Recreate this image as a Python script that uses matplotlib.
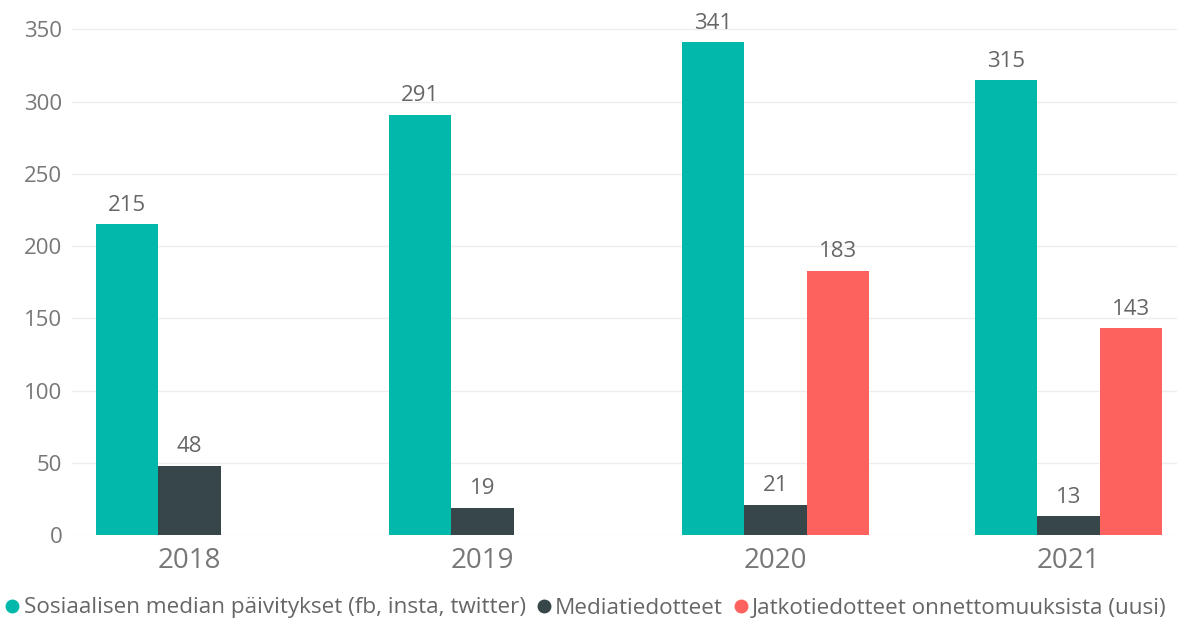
import matplotlib.pyplot as plt
from matplotlib.lines import Line2D
import numpy as np

years = ['2018', '2019', '2020', '2021']
series_names = [
    'Sosiaalisen median päivitykset (fb, insta, twitter)',
    'Mediatiedotteet',
    'Jatkotiedotteet onnettomuuksista (uusi)',
]
somepaivitykset = [215, 291, 341, 315]
mediatiedotteet = [48, 19, 21, 13]
jatkotiedotteet = [None, None, 183, 143]
colors = ['#01B8AA', '#374649', '#FD625E']


def render_chart():
    plt.rcParams['font.family'] = ['Open Sans', 'DejaVu Sans']
    fig = plt.figure(figsize=(11.77, 6.23), dpi=100)
    ax = fig.add_axes([72 / 1177, 1 - 535 / 623, 1 - 72 / 1177, (535 - 15) / 623])

    x = np.arange(len(years))
    w = 0.2127
    all_series = [somepaivitykset, mediatiedotteet, jatkotiedotteet]
    for i, (vals, name, col) in enumerate(zip(all_series, series_names, colors)):
        xs = [xi for xi, v in zip(x, vals) if v is not None]
        vs = [v for v in vals if v is not None]
        bars = ax.bar(np.array(xs) + (i - 1) * w, vs, width=w, color=col,
                      label=name, zorder=3)
        ax.bar_label(bars, padding=6, fontsize=16, color='#666666')

    ax.set_xlim(-0.401, 3.37)
    ax.set_ylim(0, 360)
    ax.set_yticks(range(0, 351, 50))
    ax.set_xticks(x)
    ax.set_xticklabels(years, fontsize=20, color='#777777')
    ax.tick_params(axis='y', labelsize=16, labelcolor='#777777', length=0, pad=7)
    ax.tick_params(axis='x', length=0, pad=9)
    ax.grid(axis='y', color='#eeeeee', linewidth=1, zorder=0)
    for s in ax.spines.values():
        s.set_visible(False)

    # legend with round markers
    handles = [Line2D([], [], marker='o', linestyle='none', markersize=9,
                      markerfacecolor=c, markeredgecolor=c) for c in colors]
    fig.legend(handles, series_names, loc='center left',
               bbox_to_anchor=(0.0, 1 - 608 / 623), ncol=3, frameon=False,
               fontsize=16.2, handlelength=0.7, handletextpad=0.15,
               columnspacing=0.45, borderaxespad=0.0, borderpad=0.2,
               labelcolor='#666666')

    fig.savefig('out.png', dpi=100)


if __name__ == "__main__":
    render_chart()
